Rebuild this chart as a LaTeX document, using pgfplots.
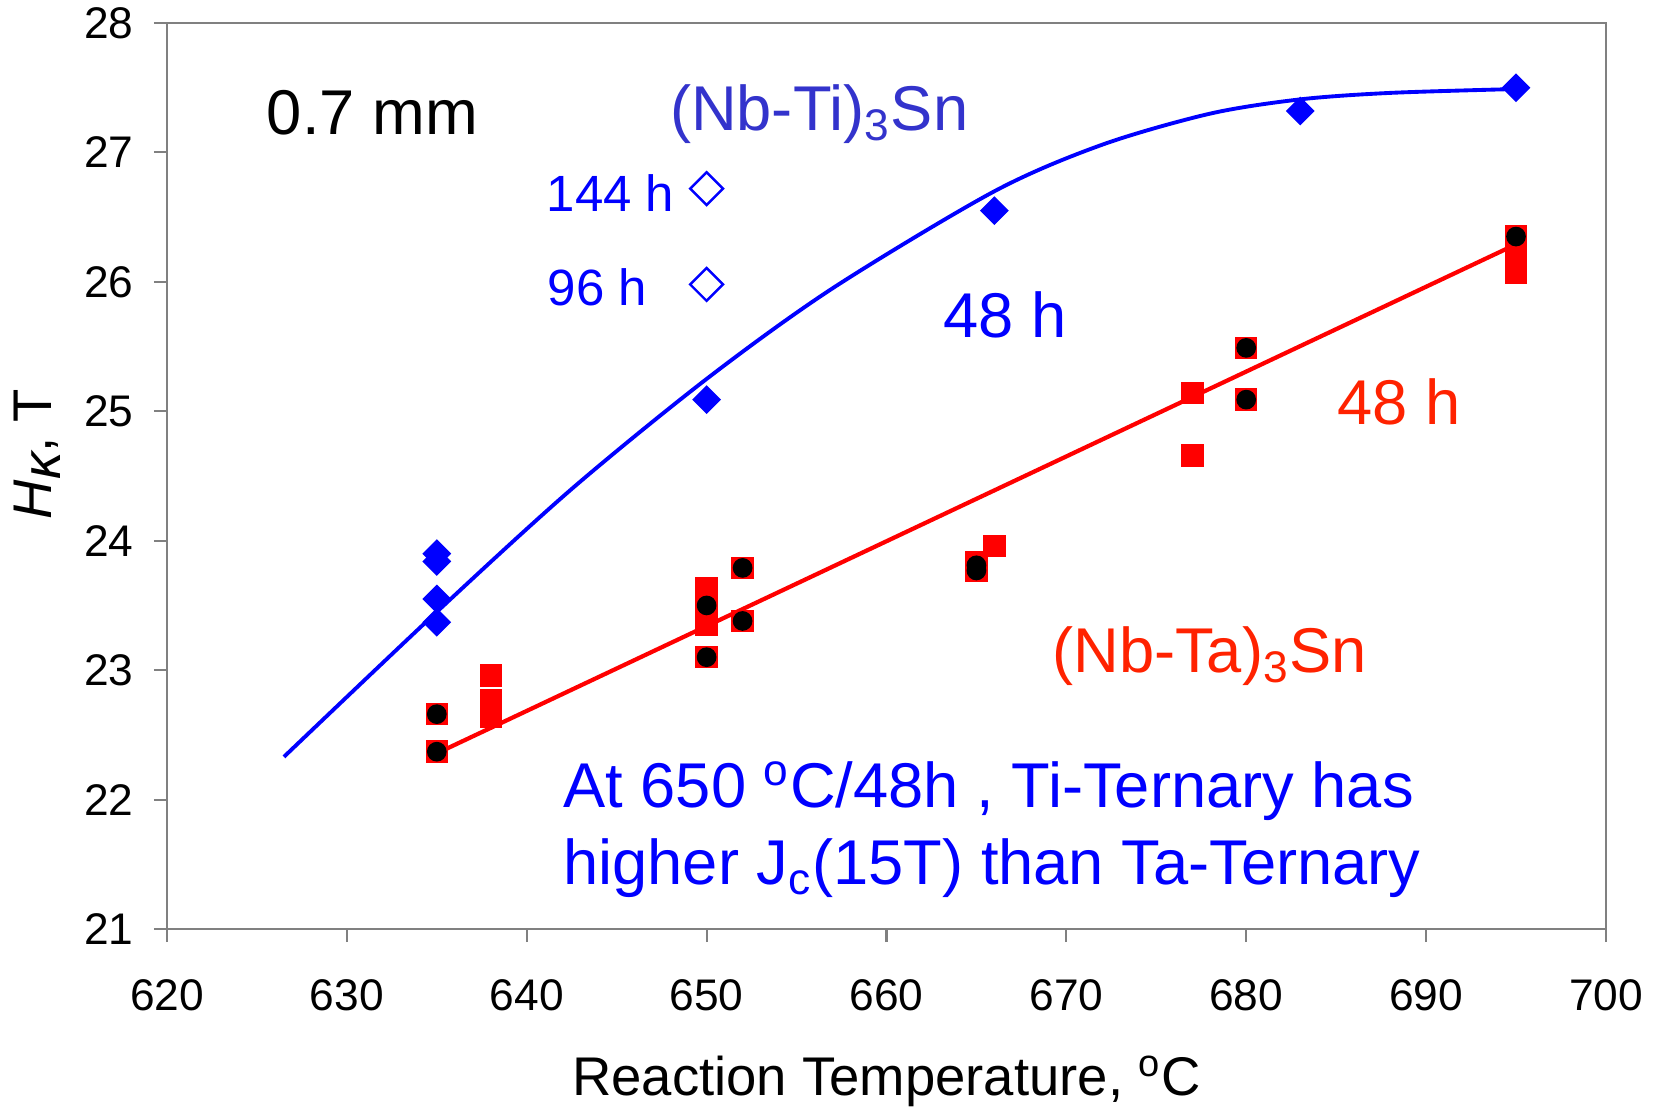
\documentclass[border=0pt]{standalone}
\usepackage{fontspec}
\setmainfont{Liberation Sans}
\usepackage{pgfplots}
\pgfplotsset{compat=1.18}
\definecolor{bl}{RGB}{0,0,255}
\definecolor{titi}{RGB}{51,51,204}
\definecolor{rd}{RGB}{255,0,0}
\definecolor{rdt}{RGB}{255,34,0}
\definecolor{axgray}{RGB}{128,128,128}
\begin{document}
\begin{tikzpicture}
\begin{axis}[
  at={(0,0)}, anchor=south west,
  scale only axis, width=14.39cm, height=9.06cm,
  xmin=620, xmax=700, ymin=21, ymax=28,
  xtick={620,630,...,700}, ytick={21,22,...,28},
  axis line style={axgray, line width=0.6pt},
  tick style={axgray, line width=0.6pt},
  tick align=outside, major tick length=0.13cm,
  xtick pos=bottom, ytick pos=left,
  /pgf/number format/assume math mode=true,
  /pgf/number format/1000 sep={},
  ticklabel style={font=\fontsize{12.6}{15}\selectfont, text=black},
  xticklabel style={yshift=-0.25cm},
  yticklabel style={xshift=-0.08cm},
  xlabel={Reaction Temperature, \textsuperscript{o}C},
  ylabel={\textit{H\raisebox{-0.3ex}{κ}}, T},
  label style={font=\fontsize{15.5}{18}\selectfont},
  xlabel style={at={(axis description cs:0.5,0)}, anchor=base, yshift=-1.66cm},
  ylabel style={at={(axis description cs:-0.0903,0.524)}, anchor=center},
  clip=false,
]
% trend lines
\addplot[bl, line width=1.1pt, smooth, no marks] coordinates {
(626.5,22.33) (635,23.45) (642.5,24.40) (650,25.25) (657,25.95) (666,26.70)
(672,27.06) (678,27.30) (683,27.41) (688,27.46) (695,27.49)};
\addplot[rd, line width=1.2pt, no marks] coordinates {(635.5,22.39) (695,26.29)};
% (Nb-Ti)3Sn 48 h
\addplot[only marks, mark=square*, mark size=2.7pt, mark options={rotate=45, fill=bl, draw=bl}] coordinates {
(635,23.90) (635,23.84) (635,23.55) (635,23.37) (650,25.09) (666,26.55) (683,27.32) (695,27.50)};
% 96 h and 144 h
\addplot[only marks, mark=square, mark size=3.3pt, mark options={rotate=45, draw=bl, line width=0.7pt, fill=white}] coordinates {
(650,26.72) (650,25.98)};
% (Nb-Ta)3Sn
\addplot[only marks, mark=square*, mark size=3pt, mark options={fill=rd, draw=rd}] coordinates {
(635,22.66) (635,22.37)
(638,22.96) (638,22.77) (638,22.64)
(650,23.63) (650,23.50) (650,23.35) (650,23.10)
(652,23.79) (652,23.38)
(665,23.83) (665,23.77) (666,23.96)
(677,25.14) (677,24.66)
(680,25.49) (680,25.09)
(695,26.35) (695,26.21) (695,26.07)};
\addplot[only marks, mark=*, mark size=2.6pt, mark options={fill=black, draw=black}] coordinates {
(635,22.66) (635,22.37)
(650,23.50) (650,23.10)
(652,23.79) (652,23.38)
(665,23.81) (665,23.77)
(680,25.49) (680,25.09)
(695,26.35)};
% annotations
\node[anchor=base west, inner sep=0, font=\fontsize{18}{21.6}\selectfont, text=black] at (axis cs:625.52,27.135) {0.7 mm};
\node[anchor=base west, inner sep=0, font=\fontsize{18}{21.6}\selectfont, text=titi] at (axis cs:647.93,27.17) {(Nb-Ti)\textsubscript{3}Sn};
\node[anchor=base west, inner sep=0, font=\fontsize{14.5}{17}\selectfont, text=bl] at (axis cs:641.07,26.54) {144 h};
\node[anchor=base west, inner sep=0, font=\fontsize{14.5}{17}\selectfont, text=bl] at (axis cs:641.13,25.815) {96 h};
\node[anchor=base west, inner sep=0, font=\fontsize{18}{21.6}\selectfont, text=bl] at (axis cs:663.13,25.57) {48 h};
\node[anchor=base west, inner sep=0, font=\fontsize{18}{21.6}\selectfont, text=rdt] at (axis cs:685.02,24.90) {48 h};
\node[anchor=base west, inner sep=0, font=\fontsize{18}{21.6}\selectfont, text=rdt] at (axis cs:669.18,22.98) {(Nb-Ta)\textsubscript{3}Sn};
\node[anchor=base west, inner sep=0, font=\fontsize{18}{21.6}\selectfont, text=bl] at (axis cs:642.0,21.94) {At 650 \textsuperscript{o}C/48h , Ti-Ternary has};
\node[anchor=base west, inner sep=0, font=\fontsize{18}{21.6}\selectfont, text=bl] at (axis cs:642.0,21.34) {higher J\textsubscript{c}(15T) than Ta-Ternary};
\end{axis}
\pgfresetboundingbox
\path (-1.67cm,-1.79cm) rectangle (14.89cm,9.29cm);
\end{tikzpicture}
\end{document}
